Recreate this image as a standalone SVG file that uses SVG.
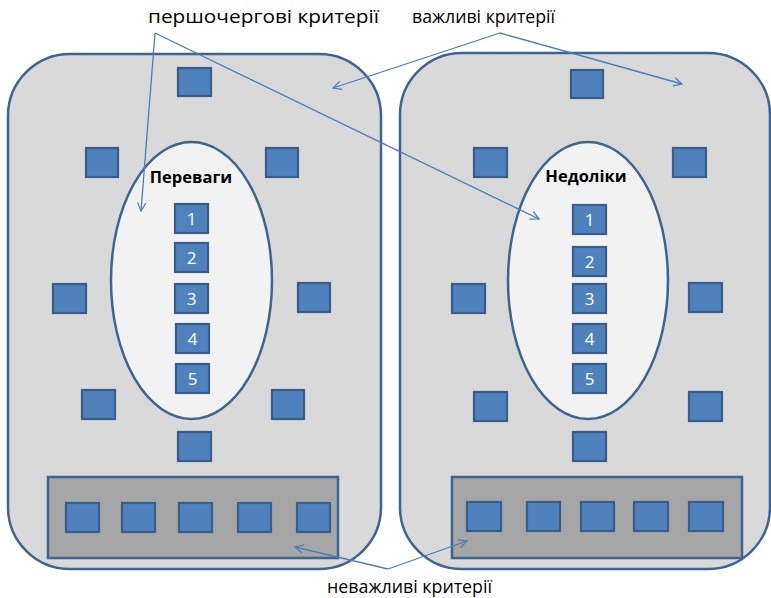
<svg xmlns="http://www.w3.org/2000/svg" width="771" height="598" viewBox="0 0 771 598">
<defs>
<style>
.cont{fill:#d9d9d9;stroke:#3f6491;stroke-width:2.5}
.ell{fill:#f2f2f2;stroke:#3f6491;stroke-width:2.5}
.bar{fill:#a6a6a6;stroke:#3f6491;stroke-width:2.5}
.sq{fill:#4f81bd;stroke:#385d8a;stroke-width:2.2}
.num{font-family:"Open Sans","Liberation Sans",sans-serif;font-size:17px;fill:#ffffff;text-anchor:middle}
.lbl{font-family:"Open Sans","Liberation Sans",sans-serif;font-size:18.5px;fill:#000;text-anchor:middle}
.ttl{font-family:"Open Sans","Liberation Sans",sans-serif;font-size:16.5px;font-weight:bold;fill:#000;text-anchor:middle}
.con{fill:none;stroke:#4a7ebb;stroke-width:1.3;marker-end:url(#ah)}
</style>
<marker id="ah" viewBox="0 0 12 12" refX="11" refY="6" markerWidth="10" markerHeight="10" markerUnits="userSpaceOnUse" orient="auto">
<path d="M1,1 L11,6 L1,11" fill="none" stroke="#4a7ebb" stroke-width="1.5"/>
</marker>
</defs>

<g id="left-panel">
<rect class="cont" x="8" y="54" width="373" height="515" rx="62" ry="62"/>
<g id="left-outer-squares">
<rect class="sq" x="178" y="68" width="33" height="28"/>
<rect class="sq" x="86" y="148" width="32" height="29"/>
<rect class="sq" x="266" y="148" width="32" height="29"/>
<rect class="sq" x="53" y="284" width="33" height="29"/>
<rect class="sq" x="298" y="283" width="32" height="29"/>
<rect class="sq" x="82" y="390" width="33" height="29"/>
<rect class="sq" x="272" y="390" width="32" height="29"/>
<rect class="sq" x="178" y="432" width="33" height="29"/>
</g>
<g id="left-ellipse">
<ellipse class="ell" cx="191.5" cy="280.5" rx="80.5" ry="138.5"/>
<text class="ttl" x="191" y="183">Переваги</text>
<rect class="sq" x="175" y="204" width="33" height="29"/><text class="num" x="191.5" y="225">1</text>
<rect class="sq" x="175" y="243" width="33" height="29"/><text class="num" x="191.5" y="264">2</text>
<rect class="sq" x="175" y="284" width="33" height="29"/><text class="num" x="191.5" y="305">3</text>
<rect class="sq" x="176" y="324" width="33" height="29"/><text class="num" x="192.5" y="345">4</text>
<rect class="sq" x="176" y="364" width="33" height="29"/><text class="num" x="192.5" y="385">5</text>
</g>
<g id="left-bar">
<rect class="bar" x="48" y="477" width="290" height="81"/>
<rect class="sq" x="66" y="503" width="33" height="29"/>
<rect class="sq" x="122" y="503" width="33" height="29"/>
<rect class="sq" x="179" y="503" width="33" height="29"/>
<rect class="sq" x="238" y="503" width="33" height="29"/>
<rect class="sq" x="297" y="503" width="33" height="29"/>
</g>
</g>

<g id="right-panel">
<rect class="cont" x="400" y="53" width="370" height="516" rx="62" ry="62"/>
<g id="right-outer-squares">
<rect class="sq" x="571" y="70" width="32" height="28"/>
<rect class="sq" x="474" y="148" width="33" height="29"/>
<rect class="sq" x="673" y="148" width="33" height="29"/>
<rect class="sq" x="452" y="284" width="33" height="29"/>
<rect class="sq" x="689" y="283" width="33" height="29"/>
<rect class="sq" x="474" y="392" width="33" height="29"/>
<rect class="sq" x="689" y="392" width="33" height="29"/>
<rect class="sq" x="573" y="432" width="33" height="29"/>
</g>
<g id="right-ellipse">
<ellipse class="ell" cx="588" cy="280.5" rx="80" ry="138.5"/>
<text class="ttl" x="586" y="182">Недоліки</text>
<rect class="sq" x="573" y="205" width="33" height="29"/><text class="num" x="589.5" y="226">1</text>
<rect class="sq" x="573" y="247" width="33" height="29"/><text class="num" x="589.5" y="268">2</text>
<rect class="sq" x="573" y="284" width="33" height="29"/><text class="num" x="589.5" y="305">3</text>
<rect class="sq" x="573" y="324" width="33" height="29"/><text class="num" x="589.5" y="345">4</text>
<rect class="sq" x="573" y="364" width="33" height="29"/><text class="num" x="589.5" y="385">5</text>
</g>
<g id="right-bar">
<rect class="bar" x="452" y="477" width="290" height="81"/>
<rect class="sq" x="467" y="502" width="34" height="29"/>
<rect class="sq" x="527" y="502" width="33" height="29"/>
<rect class="sq" x="581" y="502" width="33" height="29"/>
<rect class="sq" x="634" y="502" width="34" height="29"/>
<rect class="sq" x="689" y="502" width="34" height="29"/>
</g>
</g>

<g id="labels">
<text class="lbl" x="263.5" y="23" textLength="231" lengthAdjust="spacingAndGlyphs">першочергові критерії</text>
<text class="lbl" x="483.5" y="23" textLength="143" lengthAdjust="spacingAndGlyphs">важливі критерії</text>
<text class="lbl" x="409.5" y="593" textLength="165" lengthAdjust="spacingAndGlyphs">неважливі критерії</text>
</g>

<g id="connectors">
<line class="con" x1="155" y1="33" x2="141" y2="211"/>
<line class="con" x1="155" y1="33" x2="539" y2="219"/>
<line class="con" x1="500" y1="33" x2="333" y2="88"/>
<line class="con" x1="500" y1="33" x2="682" y2="84"/>
<line class="con" x1="388" y1="569" x2="295" y2="547"/>
<line class="con" x1="388" y1="569" x2="467" y2="541"/>
</g>
</svg>
